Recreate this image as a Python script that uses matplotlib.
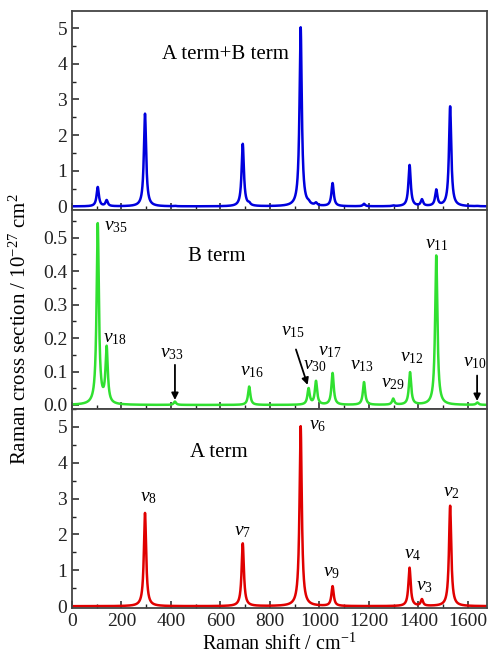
import numpy as np
import matplotlib
matplotlib.use("Agg")
import matplotlib.pyplot as plt
from matplotlib.ticker import MultipleLocator

plt.rcParams['font.family'] = ['Liberation Serif', 'DejaVu Serif']
plt.rcParams['mathtext.fontset'] = 'custom'
plt.rcParams['mathtext.rm'] = 'Liberation Serif'
plt.rcParams['mathtext.it'] = 'Liberation Serif:italic'

# peak positions (cm-1) and heights
a_pos = [295, 690, 924, 1053, 1364, 1414, 1528]
a_amp = [2.6, 1.75, 5.02, 0.55, 1.07, 0.18, 2.8]
a_lab = ['8', '7', '6', '9', '4', '3', '2']
a_txt = [(307, 3.03), (690, 2.08), (992, 5.05), (1050, 0.94), (1378, 1.44), (1426, 0.55), (1535, 3.17)]

b_pos = [104, 140, 416, 716, 956, 986, 1053, 1180, 1298, 1366, 1472, 1638]
b_amp = [0.54, 0.165, 0.01, 0.055, 0.048, 0.07, 0.095, 0.068, 0.018, 0.097, 0.447, 0.007]
b_lab = ['35', '18', '33', '16', '15', '30', '17', '13', '29', '12', '11', '10']
b_txt = [(178, 0.535), (172, 0.198), (405, 0.154), (727, 0.10), (894, 0.219), (982, 0.118),
         (1042, 0.16), (1172, 0.118), (1297, 0.065), (1374, 0.142), (1475, 0.48), (1628, 0.127)]
# arrows: label index -> (start, end)
b_arrows = {2: ((416, 0.12), (416, 0.015)),
            4: ((905, 0.166), (952, 0.06)),
            11: ((1637, 0.088), (1637, 0.012))}

hwhm = 5.5
x = np.linspace(0, 1700, 6000)


def spectrum(pos, amp):
    y = np.zeros_like(x)
    for p, h in zip(pos, amp):
        y += h * hwhm ** 2 / ((x - p) ** 2 + hwhm ** 2)
    return y


ya = spectrum(a_pos, a_amp)
yb = spectrum(b_pos, b_amp)
ysum = ya + yb

fig = plt.figure(figsize=(4.89, 6.59), dpi=100)
left, right = 72 / 489, 487 / 489
top, bottom = 1 - 11 / 659, 1 - 608 / 659
h = (top - bottom) / 3
ax_top = fig.add_axes([left, bottom + 2 * h, right - left, h])
ax_mid = fig.add_axes([left, bottom + h, right - left, h])
ax_bot = fig.add_axes([left, bottom, right - left, h])

ax_top.plot(x, ysum, color='#0000dd', lw=1.8)
ax_mid.plot(x, yb, color='#30e030', lw=1.8)
ax_bot.plot(x, ya, color='#e00000', lw=1.8)

for ax in (ax_top, ax_mid, ax_bot):
    ax.set_xlim(0, 1677)
    ax.xaxis.set_major_locator(MultipleLocator(200))
    ax.xaxis.set_minor_locator(MultipleLocator(100))
    ax.tick_params(which='both', direction='in', labelsize=14, colors='#222222')
    ax.tick_params(which='major', length=5, width=1.1)
    ax.tick_params(which='minor', length=3, width=1.0)
    for s in ax.spines.values():
        s.set_linewidth(1.3)
        s.set_color('#444444')

ax_top.set_ylim(-0.1, 5.48)
ax_top.yaxis.set_major_locator(MultipleLocator(1))
ax_top.yaxis.set_minor_locator(MultipleLocator(0.5))
ax_top.tick_params(axis='x', labelbottom=False)

ax_mid.set_ylim(-0.012, 0.583)
ax_mid.yaxis.set_minor_locator(MultipleLocator(0.05))
ax_mid.set_yticks([0.0, 0.1, 0.2, 0.3, 0.4, 0.5])
ax_mid.set_yticklabels(['0.0', '0.1', '0.2', '0.3', '0.4', '0.5'])
ax_mid.tick_params(axis='x', labelbottom=False)

ax_bot.set_ylim(-0.05, 5.5)
ax_bot.yaxis.set_major_locator(MultipleLocator(1))
ax_bot.yaxis.set_minor_locator(MultipleLocator(0.5))
ax_bot.set_xlabel('Raman shift / cm$^{-1}$', fontsize=14.5, labelpad=3)

ax_mid.set_ylabel('Raman cross section / 10$^{-27}$ cm$^{2}$', fontsize=15)
ax_mid.yaxis.set_label_coords(-0.1, 0.40)

ax_top.text(365, 4.25, 'A term+B term', fontsize=15, va='center')
ax_mid.text(469, 0.444, 'B term', fontsize=15, va='center')
ax_bot.text(477, 4.28, 'A term', fontsize=15, va='center')

for lab, (tx, ty) in zip(a_lab, a_txt):
    ax_bot.text(tx, ty, r'$\mathit{v}_{%s}$' % lab, fontsize=14, ha='center', va='center')

for i, (lab, (tx, ty)) in enumerate(zip(b_lab, b_txt)):
    ax_mid.text(tx, ty, r'$\mathit{v}_{%s}$' % lab, fontsize=14, ha='center', va='center')
    if i in b_arrows:
        (x0, y0), (x1, y1) = b_arrows[i]
        ax_mid.annotate('', xy=(x1, y1), xytext=(x0, y0),
                        arrowprops=dict(arrowstyle='-|>', color='black', lw=1.3,
                                        mutation_scale=10, shrinkA=0, shrinkB=0))

fig.savefig('out.png', dpi=100)
